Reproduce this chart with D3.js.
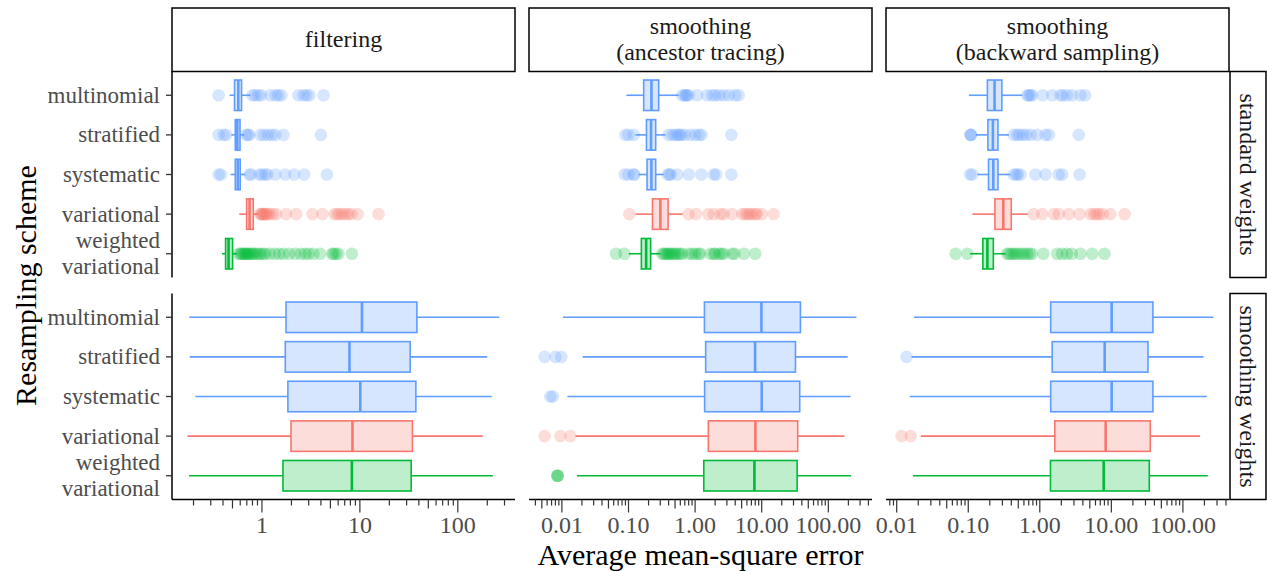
<!DOCTYPE html>
<html><head><meta charset="utf-8">
<script src="https://cdn.jsdelivr.net/npm/d3@7"></script>
<style>body{margin:0;background:#fff} text{font-family:"Liberation Serif","Times New Roman",serif}</style>
</head><body><svg id="c" width="1267" height="571"></svg>
<script>
// ---------------- data ----------------
const schemes = ["multinomial","stratified","systematic","variational","weighted\nvariational"];
const schemeColors = ["#619CFF","#619CFF","#619CFF","#F8766D","#00BA38"];
const colLabels = ["filtering","smoothing\n(ancestor tracing)","smoothing\n(backward sampling)"];
const rowLabels = ["standard weights","smoothing weights"];
const tickValues1 = [1,10,100];
const tickLabels1 = ["1","10","100"];
const tickValues23 = [0.01,0.1,1,10,100];
const tickLabels23 = ["0.01","0.10","1.00","10.00","100.00"];
const xTitle = "Average mean-square error";
const yTitle = "Resampling scheme";

// box stats: [lower whisker, q1, median, q3, upper whisker]
const filteringStandardBox = [
  [0.467,0.525,0.573,0.619,0.760],
  [0.486,0.534,0.560,0.597,0.660],
  [0.478,0.534,0.566,0.600,0.676],
  [0.587,0.697,0.747,0.815,0.924],
  [0.391,0.425,0.456,0.501,0.556]];
const filteringStandardOut = [
  [0.361,0.80,0.85,0.92,0.98,1.22,1.38,1.47,1.58,2.36,2.65,2.85,3.05,4.25],
  [0.361,0.406,0.432,0.69,0.72,0.74,0.96,1.05,1.15,1.26,1.37,1.66,4.0],
  [0.361,0.382,0.747,0.77,0.945,1.0,1.08,1.14,1.37,1.73,2.14,2.70,4.6],
  [0.96,0.98,1.0,1.02,1.05,1.08,1.1,1.15,1.2,1.3,1.4,1.77,2.24,3.28,4.15,5.5,5.82,6.2,6.6,7.1,7.6,8.2,9.5,15.5],
  [0.58,0.60,0.62,0.64,0.66,0.68,0.70,0.72,0.74,0.77,0.80,0.83,0.87,0.92,0.97,1.03,1.08,1.2,1.35,1.5,1.66,1.9,2.19,2.5,2.77,3.0,3.36,3.93,5.2,5.38,5.7,6.05,8.28]];

const ancestorStandardBox = [
  [0.093,0.169,0.221,0.284,0.567],
  [0.127,0.186,0.218,0.256,0.358],
  [0.142,0.190,0.221,0.256,0.338],
  [0.127,0.229,0.301,0.393,0.652],
  [0.101,0.156,0.184,0.215,0.301]];
const ancestorStandardOut = [
  [0.64,0.70,0.72,0.75,0.8,1.07,1.51,1.8,2.0,2.3,2.7,3.2,4.0,4.5],
  [0.09,0.10,0.12,0.40,0.45,0.5,0.55,0.58,0.62,0.7,0.85,1.0,1.15,1.25,3.5],
  [0.088,0.1,0.12,0.122,0.39,0.41,0.43,0.54,0.8,1.24,1.9,2.07,3.5],
  [0.103,0.8,1.03,1.57,1.9,2.4,2.7,3.6,5.1,5.6,6.1,6.6,7.2,8.0,8.5,10.1,15.1],
  [0.065,0.087,0.32,0.34,0.36,0.38,0.40,0.42,0.45,0.48,0.51,0.55,0.6,0.64,0.8,0.9,1.0,1.13,1.2,1.7,1.9,2.0,2.3,2.5,2.7,3.6,3.9,5.4,8.0]];

const backwardStandardBox = [
  [0.102,0.185,0.233,0.295,0.568],
  [0.127,0.188,0.221,0.260,0.370],
  [0.134,0.192,0.224,0.260,0.390],
  [0.114,0.236,0.309,0.399,0.680],
  [0.106,0.160,0.185,0.224,0.333]];
const backwardStandardOut = [
  [0.67,0.7,0.74,0.78,1.1,1.49,1.94,2.1,2.4,2.83,3.7,4.3],
  [0.108,0.108,0.109,0.43,0.48,0.52,0.58,0.65,0.75,0.92,1.2,1.34,3.5],
  [0.106,0.114,0.43,0.47,0.49,0.54,0.87,1.2,1.84,2.05,3.6],
  [0.82,1.08,1.57,1.84,2.54,3.57,5.1,5.7,6.2,6.8,7.6,9.7,15.3],
  [0.0667,0.097,0.35,0.37,0.4,0.43,0.46,0.5,0.55,0.6,0.66,0.72,0.78,1.12,1.75,2.05,2.4,2.8,3.7,5.4,8.0]];

const filteringSmoothBox = [
  [0.181,1.76,10.5,38.2,266],
  [0.183,1.73,7.83,32.6,200],
  [0.209,1.84,10.1,37.3,222],
  [0.174,1.98,8.4,34.4,180],
  [0.180,1.64,8.28,33.4,228]];
const filteringSmoothOut = [[],[],[],[],[]];

const ancestorSmoothBox = [
  [0.0104,1.38,9.9,38.1,264],
  [0.0205,1.44,7.95,32.1,195],
  [0.0121,1.39,10.0,37.2,215],
  [0.016,1.58,8.04,34.7,175],
  [0.0169,1.35,7.77,34.0,220]];
const ancestorSmoothOut = [
  [],
  [0.0055,0.008,0.0098],
  [0.0067,0.0073],
  [0.0055,0.0095,0.0134],
  [0.0085,0.0086,0.0087]];

const backwardSmoothBox = [
  [0.0175,1.42,10.1,38.1,267],
  [0.0161,1.49,8.07,32.5,194],
  [0.0152,1.42,10.1,38.1,216],
  [0.0217,1.62,8.33,35.0,174],
  [0.0169,1.41,7.81,33.9,223]];
const backwardSmoothOut = [[],[0.0137],[],[0.0117,0.0157],[]];

// ---------------- layout ----------------
const colX = [[172,515],[529,872],[886,1229]];
const rowY = [[71.5,277.5],[293.5,499.5]];
const stripTop = [8,71.5];
const stripRight = [1230,1266];
const textGrey = "#4d4d4d";

const columns = [
  {rows:[[filteringStandardBox,filteringStandardOut],[filteringSmoothBox,filteringSmoothOut]], tv:tickValues1, tl:tickLabels1},
  {rows:[[ancestorStandardBox,ancestorStandardOut],[ancestorSmoothBox,ancestorSmoothOut]], tv:tickValues23, tl:tickLabels23},
  {rows:[[backwardStandardBox,backwardStandardOut],[backwardSmoothBox,backwardSmoothOut]], tv:tickValues23, tl:tickLabels23}
];

const svg = d3.select("#c");

function multiText(parent, str, x, cy, lh, size, anchor, fill){
  const lines = str.split("\n");
  lines.forEach((l,i)=>{
    parent.append("text").attr("x", x)
      .attr("y", cy + (i-(lines.length-1)/2)*lh + 0.33*size)
      .attr("text-anchor", anchor).style("font-size", size+"px").attr("fill", fill).text(l);
  });
}

columns.forEach((col, ci) => {
  const all = [];
  col.rows.forEach(([b,o]) => { b.forEach(r=>all.push(...r)); o.forEach(r=>all.push(...r)); });
  const lmin = Math.log10(d3.min(all)), lmax = Math.log10(d3.max(all));
  const pad = (lmax-lmin)*0.05;
  const x = d3.scaleLog().domain([10**(lmin-pad), 10**(lmax+pad)]).range(colX[ci]);

  col.rows.forEach(([boxes, outs], ri) => {
    const y = d3.scalePoint().domain(schemes).range(rowY[ri]).padding(0.6);
    const bw = y.step()*0.77;
    const g = svg.append("g");
    boxes.forEach((s, si) => {
      const c = schemeColors[si];
      const cy = y(schemes[si]);
      g.selectAll(null).data(outs[si]).enter().append("circle")
        .attr("cx", d=>x(d)).attr("cy", cy).attr("r", 6.3)
        .attr("fill", c).attr("fill-opacity", 0.25);
      g.append("line").attr("x1", x(s[0])).attr("x2", x(s[1])).attr("y1", cy).attr("y2", cy)
        .attr("stroke", c).attr("stroke-width", 1.6);
      g.append("line").attr("x1", x(s[3])).attr("x2", x(s[4])).attr("y1", cy).attr("y2", cy)
        .attr("stroke", c).attr("stroke-width", 1.6);
      g.append("rect").attr("x", x(s[1])).attr("width", x(s[3])-x(s[1]))
        .attr("y", cy-bw/2).attr("height", bw)
        .attr("fill", c).attr("fill-opacity", 0.25).attr("stroke", c).attr("stroke-width", 1.6);
      g.append("line").attr("x1", x(s[2])).attr("x2", x(s[2])).attr("y1", cy-bw/2).attr("y2", cy+bw/2)
        .attr("stroke", c).attr("stroke-width", 2.6);
    });

    if (ci === 0) {
      svg.append("line").attr("x1", colX[0][0]).attr("x2", colX[0][0]).attr("y1", rowY[ri][0]).attr("y2", rowY[ri][1])
        .attr("stroke", "#000").attr("stroke-width", 1.5);
      schemes.forEach(sc => {
        const cy = y(sc);
        svg.append("line").attr("x1", colX[0][0]-6).attr("x2", colX[0][0]).attr("y1", cy).attr("y2", cy)
          .attr("stroke", "#333").attr("stroke-width", 1.3);
        multiText(svg, sc, 160, cy, 26, 23, "end", textGrey);
      });
    }
    if (ci === 2) {
      svg.append("rect").attr("x", stripRight[0]).attr("y", rowY[ri][0]).attr("width", stripRight[1]-stripRight[0])
        .attr("height", rowY[ri][1]-rowY[ri][0]).attr("fill","#fff").attr("stroke","#000").attr("stroke-width",1.5);
      const cxs = (stripRight[0]+stripRight[1])/2, cys = (rowY[ri][0]+rowY[ri][1])/2;
      svg.append("text").attr("transform", `translate(${cxs},${cys}) rotate(90)`)
        .attr("text-anchor","middle").attr("dy","0.33em").style("font-size","24px").attr("fill","#1a1a1a")
        .text(rowLabels[ri]);
    }
  });

  const yb = rowY[1][1];
  svg.append("line").attr("x1", colX[ci][0]).attr("x2", colX[ci][1]).attr("y1", yb).attr("y2", yb)
    .attr("stroke","#000").attr("stroke-width",1.5);
  const [d0,d1] = x.domain();
  const ticks = [];
  for (let k = Math.floor(Math.log10(d0)); k <= Math.ceil(Math.log10(d1)); k++) {
    for (let m = 1; m <= 9; m++) {
      const v = m*10**k;
      if (v >= d0 && v <= d1) ticks.push({v, len: m===1 ? 13 : (m===5 ? 9 : 6)});
    }
  }
  svg.append("g").selectAll("line").data(ticks).enter().append("line")
    .attr("x1", d=>x(d.v)).attr("x2", d=>x(d.v)).attr("y1", yb).attr("y2", d=>yb+d.len)
    .attr("stroke","#333").attr("stroke-width",1.2);
  svg.append("g").selectAll("text").data(col.tv).enter().append("text")
    .attr("x", d=>x(d)).attr("y", 533).attr("text-anchor","middle")
    .style("font-size","24px").attr("fill", textGrey)
    .text((d,i)=>col.tl[i]);

  svg.append("rect").attr("x", colX[ci][0]).attr("y", stripTop[0]).attr("width", colX[ci][1]-colX[ci][0])
    .attr("height", stripTop[1]-stripTop[0]).attr("fill","#fff").attr("stroke","#000").attr("stroke-width",1.5);
  multiText(svg, colLabels[ci], (colX[ci][0]+colX[ci][1])/2, (stripTop[0]+stripTop[1])/2 - 0.5, 26, 24, "middle", "#1a1a1a");
});

svg.append("text").attr("x", (colX[0][0]+colX[2][1])/2).attr("y", 565).attr("text-anchor","middle")
  .style("font-size","30px").attr("fill","#000").text(xTitle);
svg.append("text").attr("transform", `translate(36,${(rowY[0][0]+rowY[1][1])/2}) rotate(-90)`)
  .attr("text-anchor","middle").style("font-size","30px").attr("fill","#000").text(yTitle);
</script>
</body></html>
